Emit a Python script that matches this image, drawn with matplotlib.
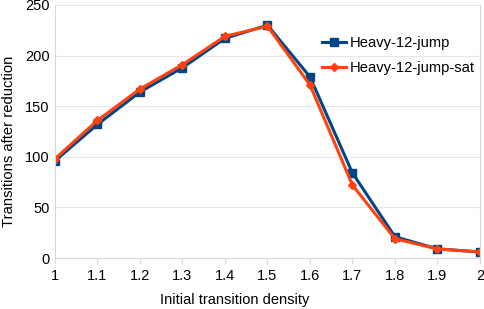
import matplotlib
matplotlib.use('Agg')
from matplotlib import pyplot as plt

plt.rcParams['font.family'] = ['Liberation Sans', 'DejaVu Sans']

density = [1.0, 1.1, 1.2, 1.3, 1.4, 1.5, 1.6, 1.7, 1.8, 1.9, 2.0]
heavy_jump = [96, 132, 164, 188, 217, 230, 179, 84, 21, 9, 6]
heavy_jump_sat = [98, 136, 167, 191, 219, 229, 171, 72, 19, 9, 6]
tick_labels = ['1', '1.1', '1.2', '1.3', '1.4', '1.5', '1.6', '1.7', '1.8', '1.9', '2']

fig = plt.figure(figsize=(4.84, 3.09), dpi=100)
ax = fig.add_axes([0.1136, 0.165, 0.878, 0.819])

ax.plot(density, heavy_jump, color='#004586', marker='s', markersize=6,
        linewidth=2.2, label='Heavy-12-jump')
ax.plot(density, heavy_jump_sat, color='#ff420e', marker='D', markersize=4,
        linewidth=2.2, label='Heavy-12-jump-sat')

ax.set_xlim(1, 2)
ax.set_ylim(0, 250)
ax.set_xticks(density)
ax.set_xticklabels(tick_labels)
ax.set_yticks([0, 50, 100, 150, 200, 250])
ax.yaxis.grid(True, color='#e6e6e6', linewidth=0.8)
ax.set_axisbelow(True)
ax.spines['top'].set_visible(False)
for side in ['left', 'bottom', 'right']:
    ax.spines[side].set_color('#d9d9d9')
ax.tick_params(axis='x', length=4, color='#d9d9d9', labelsize=10.5, pad=4)
ax.tick_params(axis='y', length=0, labelsize=10.5, pad=4)

ax.set_xlabel('Initial transition density', fontsize=10.5, va='center')
ax.xaxis.set_label_coords(0.422, -0.166)
ax.set_ylabel('Transitions after reduction', fontsize=10.6, va='center')
ax.yaxis.set_label_coords(-0.108, 0.462)

ax.legend(loc='upper right', bbox_to_anchor=(1.02, 0.93), frameon=False,
          fontsize=10.6, handlelength=1.6, handletextpad=0.3, labelspacing=0.75)

fig.savefig('out.png', dpi=100)
